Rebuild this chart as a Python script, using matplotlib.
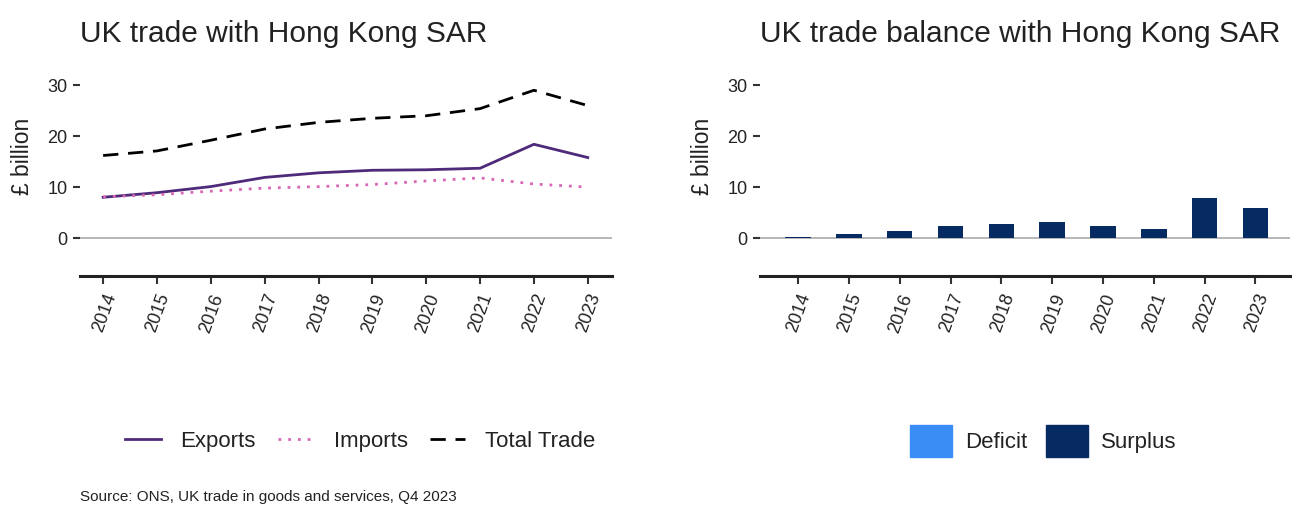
import numpy as np
import matplotlib
matplotlib.use('Agg')
import matplotlib.pyplot as plt
from matplotlib.patches import Patch
from matplotlib.lines import Line2D

plt.rcParams['font.family'] = ['Liberation Sans', 'DejaVu Sans']

# Datos (£ billion)
years = [2014, 2015, 2016, 2017, 2018, 2019, 2020, 2021, 2022, 2023]
exports = [8.0, 8.9, 10.1, 11.9, 12.8, 13.3, 13.4, 13.7, 18.4, 15.8]
imports = [8.1, 8.5, 9.2, 9.8, 10.1, 10.5, 11.2, 11.8, 10.6, 10.0]
total_trade = [16.2, 17.1, 19.2, 21.4, 22.7, 23.5, 24.0, 25.4, 29.0, 26.0]
balance = [0.2, 0.8, 1.3, 2.4, 2.8, 3.1, 2.4, 1.8, 7.9, 5.9]

c_exports = '#4f2a7a'
c_imports = '#d866b5'
c_deficit = '#3a8df5'
c_surplus = '#062a62'
txt = '#222222'

fig = plt.figure(figsize=(12.95, 5.11), dpi=100)

ax1 = fig.add_axes([80/1295, 1-276/511, (612-80)/1295, (276-75)/511])
ax2 = fig.add_axes([760/1295, 1-276/511, (1290-760)/1295, (276-75)/511])


def estilo(ax, xlim, ylab_x):
    ax.set_xlim(*xlim)
    ax.set_ylim(-7.45, 32)
    for s in ['top', 'right', 'left']:
        ax.spines[s].set_visible(False)
    ax.spines['bottom'].set_linewidth(2.2)
    ax.spines['bottom'].set_color('#222222')
    ax.axhline(0, color='#aaaaaa', lw=1.2, zorder=1)
    ax.set_yticks([0, 10, 20, 30])
    ax.set_xticks(years)
    ax.set_xticklabels([str(y) for y in years], rotation=70, ha='right',
                       rotation_mode='anchor', fontsize=13, color=txt)
    ax.tick_params(axis='y', length=5, width=1.5, color='#333333',
                   labelsize=13, labelcolor=txt, pad=4)
    ax.tick_params(axis='x', length=6, width=1.5, color='#333333', pad=5)
    ax.set_ylabel('£ billion', fontsize=16.5, color=txt)
    ax.yaxis.set_label_coords(ylab_x / 1295, 1 - 156 / 511,
                              transform=fig.transFigure)


# Panel izquierdo: líneas
estilo(ax1, (2013.57, 2023.45), 34)
ax1.plot(years, exports, color=c_exports, lw=2, label='Exports', zorder=3)
ax1.plot(years, imports, color=c_imports, lw=2, ls=(0, (1, 2.5)),
         label='Imports', zorder=3)
ax1.plot(years, total_trade, color='black', lw=2, ls=(0, (5.5, 3.5)),
         label='Total Trade', zorder=3)
ax1.set_title('UK trade with Hong Kong SAR', loc='left', fontsize=21.5,
              color=txt, pad=24)

# Panel derecho: barras
estilo(ax2, (2013.25, 2023.68), 714)
colores = [c_surplus if b >= 0 else c_deficit for b in balance]
ax2.bar(years, balance, width=0.5, color=colores, zorder=2)
ax2.set_title('UK trade balance with Hong Kong SAR', loc='left',
              fontsize=21.5, color=txt, pad=24)

# Leyendas
h1 = [Line2D([], [], color=c_exports, lw=2),
      Line2D([], [], color=c_imports, lw=2, ls=(0, (1, 2.5))),
      Line2D([], [], color='black', lw=2, ls=(0, (5.5, 3.5)))]
fig.legend(h1, ['Exports', 'Imports', 'Total Trade'], loc='center left',
           bbox_to_anchor=(105/1295, 1-441/511), ncol=3, frameon=False,
           fontsize=16, handlelength=1.6, handletextpad=0.9,
           columnspacing=1.0, labelcolor=txt)

h2 = [Patch(color=c_deficit), Patch(color=c_surplus)]
fig.legend(h2, ['Deficit', 'Surplus'], loc='center left',
           bbox_to_anchor=(890/1295, 1-441/511), ncol=2, frameon=False,
           fontsize=16, handlelength=1.9, handleheight=1.9,
           handletextpad=0.6, columnspacing=0.8, labelcolor=txt)

fig.text(80/1295, 1-497/511, 'Source: ONS, UK trade in goods and services, Q4 2023',
         fontsize=11, color=txt, va='center', ha='left')

fig.savefig('out.png', dpi=100)
